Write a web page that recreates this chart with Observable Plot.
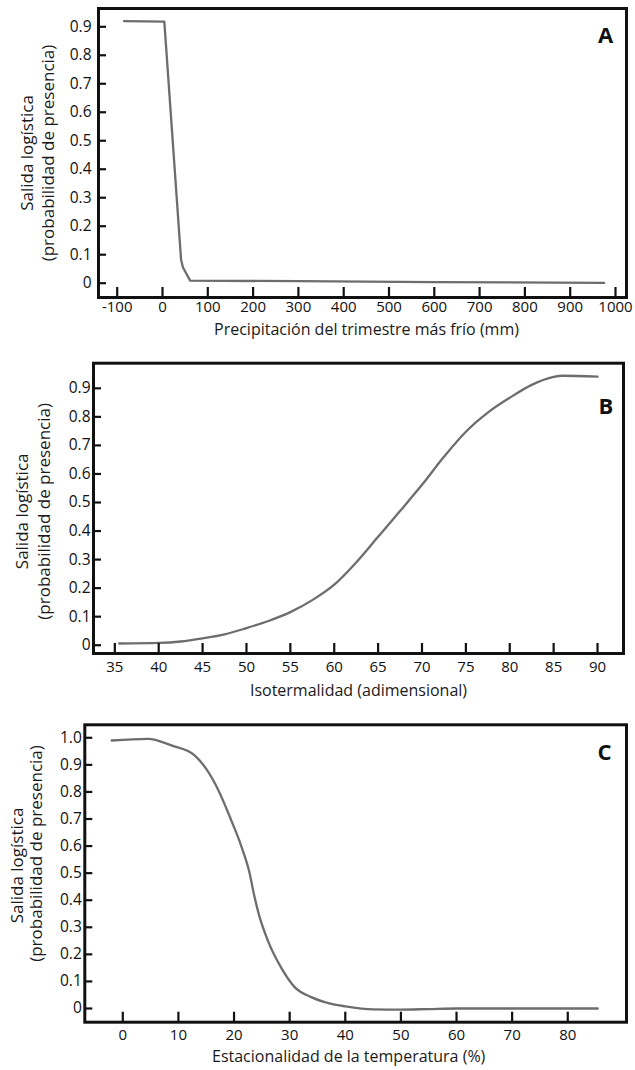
<!DOCTYPE html>
<html>
<head>
<meta charset="utf-8">
<script src="https://cdn.jsdelivr.net/npm/d3@7"></script>
<script src="https://cdn.jsdelivr.net/npm/@observablehq/plot@0.6"></script>
<style>
  html, body { margin: 0; padding: 0; background: #fff; }
  #chart { width: 635px; }
  #chart svg { display: block; }
</style>
</head>
<body>
<div id="chart"></div>
<script>
// Panel A: Precipitación del trimestre más frío (mm)
const precipX = [-85, 4, 41, 45, 61, 300, 600, 975];
const precipY = [0.92, 0.918, 0.082, 0.056, 0.009, 0.007, 0.004, 0.001];
const precipTicksX = [-100, 0, 100, 200, 300, 400, 500, 600, 700, 800, 900, 1000];
const precipTicksY = [0, 0.1, 0.2, 0.3, 0.4, 0.5, 0.6, 0.7, 0.8, 0.9];

// Panel B: Isotermalidad (adimensional)
const isoX = [35.5, 40, 42.5, 45, 47.5, 50, 52.5, 55, 57.5, 60, 62.5, 65, 67.5, 70, 72.5, 75, 77.5, 80, 82.5, 85, 86, 90];
const isoY = [0.006, 0.008, 0.013, 0.024, 0.038, 0.06, 0.085, 0.116, 0.158, 0.212, 0.29, 0.38, 0.47, 0.562, 0.66, 0.748, 0.815, 0.867, 0.912, 0.94, 0.944, 0.941];
const isoTicksX = [35, 40, 45, 50, 55, 60, 65, 70, 75, 80, 85, 90];
const isoTicksY = [0, 0.1, 0.2, 0.3, 0.4, 0.5, 0.6, 0.7, 0.8, 0.9];

// Panel C: Estacionalidad de la temperatura (%)
const seasX = [-2, 4.5, 9, 12.9, 15, 17.1, 19.5, 21.3, 22.8, 23.6, 24.5, 26.1, 28.5, 30.9, 33.9, 37.5, 40, 45, 50, 55, 60, 70, 85.4];
const seasY = [0.99, 0.996, 0.97, 0.935, 0.885, 0.81, 0.695, 0.60, 0.50, 0.42, 0.345, 0.25, 0.15, 0.079, 0.042, 0.017, 0.008, -0.003, -0.004, -0.002, 0, 0, 0];
const seasTicksX = [0, 10, 20, 30, 40, 50, 60, 70, 80];
const seasTicksY = [0, 0.1, 0.2, 0.3, 0.4, 0.5, 0.6, 0.7, 0.8, 0.9, 1.0];

const yTitle1 = "Salida logística";
const yTitle2 = "(probabilidad de presencia)";

const FONT = "'Open Sans', sans-serif";
const fmtY = d => d === 0 ? "0" : d.toFixed(1);
const fmtX = d => String(d);

function panel(cfg) {
  const data = cfg.xs.map((x, i) => ({x, y: cfg.ys[i]}));
  return Plot.plot({
    width: 635,
    height: cfg.height,
    marginLeft: cfg.ml, marginRight: cfg.mr, marginTop: cfg.mt, marginBottom: cfg.mb,
    style: {fontFamily: FONT, fontSize: "15px", color: "#111", background: "#fff"},
    x: {domain: cfg.xDomain},
    y: {domain: cfg.yDomain},
    marks: [
      Plot.line(data, {x: "x", y: "y", stroke: "#6d6d6d", strokeWidth: 2.3, curve: cfg.curve}),
      Plot.axisX(cfg.xTicks, {anchor: "bottom", tickSize: -10, tickPadding: 10 + cfg.xGap, strokeWidth: 2.2, tickFormat: fmtX, label: null, fontSize: 15, fill: "#111"}),
      Plot.axisY(cfg.yTicks, {anchor: "left", tickSize: -8, tickPadding: 8 + cfg.yGap, strokeWidth: 2.2, tickFormat: fmtY, label: null, fontSize: 15.5, fill: "#111"}),
      Plot.frame({stroke: "#111", strokeWidth: 3}),
      Plot.text([cfg.letter], {frameAnchor: "top-right", dx: cfg.letterDx, dy: cfg.letterDy, fontSize: 22, fontWeight: "bold", textAnchor: "middle", lineAnchor: "middle", fill: "#111"}),
      Plot.text([cfg.xTitle], {frameAnchor: "bottom", dx: cfg.xTitleDx, dy: cfg.xTitleDy, fontSize: 16, textAnchor: "middle", lineAnchor: "middle", fill: "#1a1a1a"}),
      Plot.text([yTitle1], {frameAnchor: "left", dx: cfg.yT1dx, dy: cfg.yT1dy, rotate: -90, fontSize: 17, textAnchor: "middle", lineAnchor: "middle", fill: "#1a1a1a"}),
      Plot.text([yTitle2], {frameAnchor: "left", dx: cfg.yT2dx, dy: cfg.yT2dy, rotate: -90, fontSize: 17, textAnchor: "middle", lineAnchor: "middle", fill: "#1a1a1a"})
    ]
  });
}

const chart = document.getElementById("chart");

chart.appendChild(panel({
  xs: precipX, ys: precipY, xTicks: precipTicksX, yTicks: precipTicksY,
  height: 340, ml: 98, mr: 9, mt: 8, mb: 43,
  xDomain: [-141.3, 1024.3], yDomain: [-0.0502, 0.9642],
  curve: "linear", xGap: 4, yGap: 7,
  letter: "A", letterDx: -21, letterDy: 27,
  xTitle: "Precipitación del trimestre más frío (mm)", xTitleDx: 4, xTitleDy: 32,
  yT1dx: -71, yT1dy: 0, yT2dx: -49.5, yT2dy: 0
}));

chart.appendChild(panel({
  xs: isoX, ys: isoY, xTicks: isoTicksX, yTicks: isoTicksY,
  height: 364, ml: 93, mr: 12, mt: 22.7, mb: 51,
  xDomain: [32.57, 92.96], yDomain: [-0.029, 0.988],
  curve: "monotone-x", xGap: 8, yGap: 3,
  letter: "B", letterDx: -17.5, letterDy: 44,
  xTitle: "Isotermalidad (adimensional)", xTitleDx: 0, xTitleDy: 37,
  yT1dx: -70.5, yT1dy: 3, yT2dx: -49, yT2dy: 3
}));

chart.appendChild(panel({
  xs: seasX, ys: seasY, xTicks: seasTicksX, yTicks: seasTicksY,
  height: 366, ml: 84.3, mr: 9, mt: 20.3, mb: 48.3,
  xDomain: [-6.83, 90.56], yDomain: [-0.0506, 1.048],
  curve: "monotone-x", xGap: 7, yGap: 3,
  letter: "C", letterDx: -22, letterDy: 28,
  xTitle: "Estacionalidad de la temperatura (%)", xTitleDx: -7, xTitleDy: 35,
  yT1dx: -66.8, yT1dy: -8, yT2dx: -48.3, yT2dy: -20
}));
</script>
</body>
</html>
